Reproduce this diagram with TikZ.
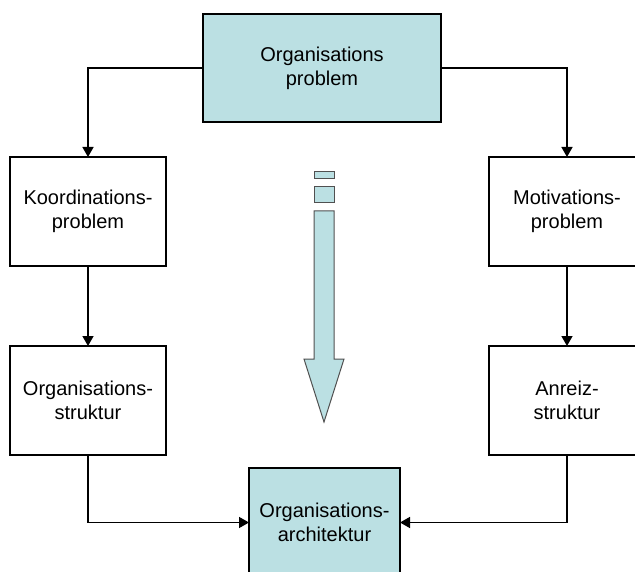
\documentclass[tikz,border=0pt]{standalone}
\usepackage{fontspec}
\setmainfont{Liberation Sans}
\usetikzlibrary{arrows.meta}
\definecolor{teal1}{RGB}{187,224,227}
\definecolor{arrowline}{RGB}{80,80,80}
\tikzset{
  box/.style={draw=black, line width=2pt, minimum width=156pt, minimum height=109pt,
    inner sep=0pt, outer sep=0pt, align=center, font=\fontsize{20}{24}\selectfont},
  tealbox/.style={box, fill=teal1},
  conn/.style={draw=black, line width=1.5pt, -{Triangle[length=10pt,width=11pt]}},
  bigarrow/.style={draw=arrowline, line width=1pt, fill=teal1, line join=miter}
}
\begin{document}
\begin{tikzpicture}[x=1pt,y=-1pt]
\useasboundingbox (0,0) rectangle (635,572);
\clip (0,0) rectangle (635,572);
\node[tealbox, minimum width=238pt, minimum height=108pt] (top) at (322,68) {Organisations\\problem};
\node[box] (k1) at (88,211.5) {Koordinations-\\problem};
\node[box] (m1) at (567,211.5) {Motivations-\\problem};
\node[box] (k2) at (88,400.5) {Organisations-\\struktur};
\node[box] (m2) at (567,400.5) {Anreiz-\\struktur};
\node[tealbox, minimum width=151pt, minimum height=109pt] (bot) at (324.5,522.5) {Organisations-\\architektur};
\draw[conn] (top.west) -| (k1.north);
\draw[conn] (top.east) -| (m1.north);
\draw[conn] (k1.south) -- (k2.north);
\draw[conn] (m1.south) -- (m2.north);
\draw[conn] (k2.south) |- (bot.west);
\draw[conn] (m2.south) |- (bot.east);
\path[bigarrow] (314,172) rectangle (334,179);
\path[bigarrow] (314,187) rectangle (334,203);
\path[bigarrow] (314,211) -- (334,211) -- (334,359) -- (344,359) -- (324,422) -- (304,359) -- (314,359) -- cycle;
\end{tikzpicture}
\end{document}
